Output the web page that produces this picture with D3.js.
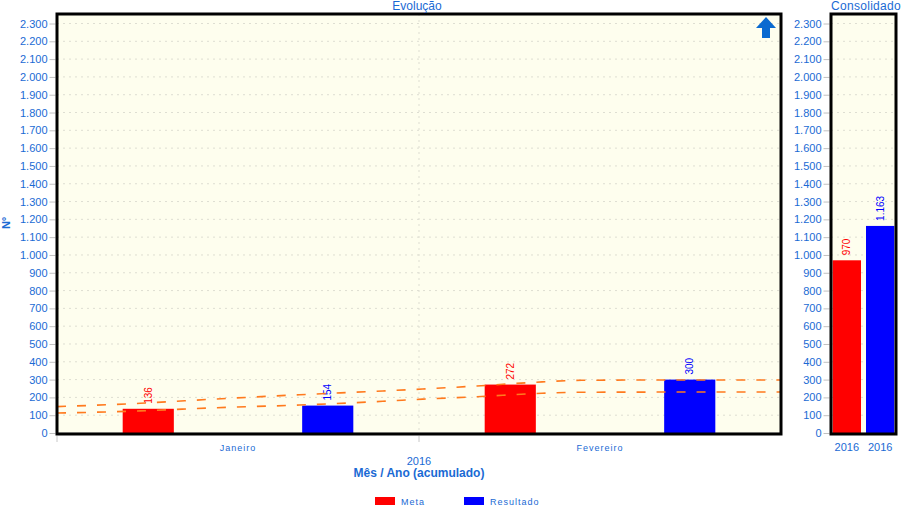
<!DOCTYPE html>
<html>
<head>
<meta charset="utf-8">
<script src="https://cdn.jsdelivr.net/npm/d3@7"></script>
<style>
  body { margin: 0; background: white; }
  text { font-family: "Liberation Sans", Arial, sans-serif; }
</style>
</head>
<body>
<div id="container"></div>
<script>
// data
let months = ['Janeiro', 'Fevereiro'];
let series = ['Meta', 'Resultado'];
let meta = [136, 272];
let resultado = [154, 300];
let consolidado = [970, 1163];
let consYear = ['2016', '2016'];
let yTicks = d3.range(0, 2301, 100);
// trend curves (position in month units, value)
let trendResultado = [[0, 148], [0.23, 167], [0.44, 191], [0.67, 215], [0.9, 236], [1.01, 247], [1.16, 264], [1.34, 287], [1.45, 296], [1.75, 298], [2, 298]];
let trendMeta = [[0, 112], [0.23, 124], [0.44, 142], [0.67, 157], [0.9, 178], [1.01, 190], [1.16, 204], [1.34, 223], [1.45, 229], [1.75, 230], [2, 230]];

let colors = { Meta: '#ff0000', Resultado: '#0000ff' };
let blue = '#1a6ad4';

let w = 902, h = 508;
let viz = d3.select('#container')
    .append('svg')
      .attr('width', w)
      .attr('height', h)
      .style('background', 'white');

let loc = d3.formatLocale({ decimal: ',', thousands: '.', grouping: [3], currency: ['R$', ''] });
let fmt = loc.format(',d');

let y = d3.scaleLinear().domain([0, 2300]).range([433, 23.5]);
let plotTop = 14;

function panel(x0, x1) {
    let g = viz.append('g');
    g.append('rect')
        .attr('x', x0).attr('y', plotTop)
        .attr('width', x1 - x0).attr('height', y(0) - plotTop)
        .attr('fill', '#fefeee');
    g.selectAll('.grid').data(yTicks.slice(1))
      .enter().append('line')
        .attr('x1', x0).attr('x2', x1)
        .attr('y1', d => y(d)).attr('y2', d => y(d))
        .attr('stroke', '#deded2')
        .attr('stroke-dasharray', '2,4');
    g.append('line')
        .attr('x1', x0).attr('x2', x1)
        .attr('y1', y(0)).attr('y2', y(0))
        .attr('stroke', '#c8c8c8');
    let ax = g.append('g')
        .attr('transform', 'translate(' + (x0 - 1.5) + ',0)')
        .call(d3.axisLeft(y).tickValues(yTicks).tickFormat(fmt).tickSize(6).tickPadding(2));
    ax.select('.domain').remove();
    ax.selectAll('line').attr('stroke', '#c0c0c0');
    ax.selectAll('text').attr('fill', blue).style('font-size', '11px');
    return g;
}

// ---- main panel
let mx0 = 57, mx1 = 781;
let main = panel(mx0, mx1);

let x = d3.scaleBand().domain(months).range([mx0, mx1]);
let xs = d3.scaleBand().domain(series).range([0, x.bandwidth()]).paddingInner(0.715).paddingOuter(0.366);
let xt = d3.scaleLinear().domain([0, 2]).range([mx0, mx1]);

// vertical divider grid
main.append('line')
    .attr('x1', x('Fevereiro')).attr('x2', x('Fevereiro'))
    .attr('y1', plotTop).attr('y2', y(0))
    .attr('stroke', '#deded2').attr('stroke-dasharray', '2,4');

let rows = [];
months.forEach((m, i) => {
    rows.push({ m: m, s: 'Meta', v: meta[i] });
    rows.push({ m: m, s: 'Resultado', v: resultado[i] });
});

main.selectAll('.bar').data(rows)
  .enter().append('rect')
    .attr('x', d => x(d.m) + xs(d.s))
    .attr('y', d => y(d.v))
    .attr('width', xs.bandwidth())
    .attr('height', d => y(0) - y(d.v))
    .attr('fill', d => colors[d.s]);

main.selectAll('.lbl').data(rows)
  .enter().append('text')
    .attr('transform', d => 'translate(' + (x(d.m) + xs(d.s) + xs.bandwidth() / 2) + ',' + (y(d.v) - 5) + ') rotate(-90)')
    .attr('dy', '0.35em')
    .attr('fill', d => colors[d.s])
    .style('font-size', '10px')
    .text(d => fmt(d.v));

let trend = d3.line().x(d => xt(d[0])).y(d => y(d[1])).curve(d3.curveMonotoneX);
[trendResultado, trendMeta].forEach(t => {
    main.append('path')
        .attr('d', trend(t))
        .attr('fill', 'none')
        .attr('stroke', '#ff7a1e')
        .attr('stroke-width', 1.6)
        .attr('stroke-dasharray', '9,11');
});

main.append('rect')
    .attr('x', mx0).attr('y', plotTop)
    .attr('width', mx1 - mx0).attr('height', y(0) - plotTop + 1)
    .attr('fill', 'none').attr('stroke', 'black').attr('stroke-width', 3);

// x ticks at band boundaries
main.selectAll('.xt').data([mx0, x('Fevereiro')])
  .enter().append('line')
    .attr('x1', d => d).attr('x2', d => d)
    .attr('y1', y(0) + 3).attr('y2', y(0) + 9)
    .attr('stroke', '#c8c8c8');

main.selectAll('.xl').data(months)
  .enter().append('text')
    .attr('x', d => x(d) + x.bandwidth() / 2)
    .attr('y', 451)
    .attr('text-anchor', 'middle')
    .attr('fill', blue)
    .style('font-size', '9px')
    .style('letter-spacing', '1px')
    .text(d => d);

main.append('text')
    .attr('x', x('Fevereiro')).attr('y', 465)
    .attr('text-anchor', 'middle').attr('fill', blue)
    .style('font-size', '11px')
    .text('2016');
main.append('text')
    .attr('x', x('Fevereiro')).attr('y', 477)
    .attr('text-anchor', 'middle').attr('fill', blue)
    .style('font-size', '12px').style('font-weight', 'bold')
    .text('Mês / Ano (acumulado)');

main.append('text')
    .attr('x', 417).attr('y', 10)
    .attr('text-anchor', 'middle').attr('fill', blue)
    .style('font-size', '12px')
    .text('Evolução');

main.append('text')
    .attr('transform', 'translate(10,223) rotate(-90)')
    .attr('text-anchor', 'middle').attr('fill', blue)
    .style('font-size', '11px').style('font-weight', 'bold')
    .text('Nº');

// up arrow
main.append('path')
    .attr('d', 'M766,17 L776,28 L770,28 L770,38 L762,38 L762,28 L756,28 Z')
    .attr('fill', '#0a6ad0');

// ---- consolidado panel
let cx0 = 831, cx1 = 896;
let cons = panel(cx0, cx1);
let xc = d3.scaleBand().domain(series).range([cx0, cx1]).paddingInner(0.15).paddingOuter(0.05);

cons.selectAll('.bar').data(series)
  .enter().append('rect')
    .attr('x', d => xc(d))
    .attr('y', (d, i) => y(consolidado[i]))
    .attr('width', xc.bandwidth())
    .attr('height', (d, i) => y(0) - y(consolidado[i]))
    .attr('fill', d => colors[d]);

cons.selectAll('.lbl').data(series)
  .enter().append('text')
    .attr('transform', (d, i) => 'translate(' + (xc(d) + xc.bandwidth() / 2) + ',' + (y(consolidado[i]) - 5) + ') rotate(-90)')
    .attr('dy', '0.35em')
    .attr('fill', d => colors[d])
    .style('font-size', '10px')
    .text((d, i) => fmt(consolidado[i]));

cons.append('rect')
    .attr('x', cx0).attr('y', plotTop)
    .attr('width', cx1 - cx0).attr('height', y(0) - plotTop + 1)
    .attr('fill', 'none').attr('stroke', 'black').attr('stroke-width', 3);

cons.selectAll('.xl').data(series)
  .enter().append('text')
    .attr('x', d => xc(d) + xc.bandwidth() / 2)
    .attr('y', 451)
    .attr('text-anchor', 'middle').attr('fill', blue)
    .style('font-size', '11px')
    .text((d, i) => consYear[i]);

cons.append('text')
    .attr('x', 901).attr('y', 10)
    .attr('text-anchor', 'end').attr('fill', blue)
    .style('font-size', '12px')
    .style('letter-spacing', '0.3px')
    .text('Consolidado');

// ---- legend
let legendX = d3.scaleOrdinal().domain(series).range([375, 464]);
let legend = viz.append('g');
legend.selectAll('rect').data(series)
  .enter().append('rect')
    .attr('x', d => legendX(d)).attr('y', 497)
    .attr('width', 20).attr('height', 8)
    .attr('fill', d => colors[d]);
legend.selectAll('text').data(series)
  .enter().append('text')
    .attr('x', d => legendX(d) + 26).attr('y', 505)
    .attr('fill', blue)
    .style('font-size', '9px')
    .style('letter-spacing', '1px')
    .text(d => d);
</script>
</body>
</html>
